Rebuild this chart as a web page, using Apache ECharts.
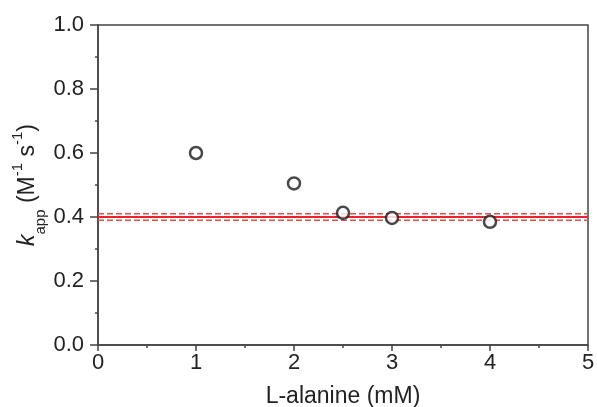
<!DOCTYPE html>
<html>
<head>
<meta charset="utf-8">
<script src="https://cdn.jsdelivr.net/npm/echarts@6/dist/echarts.min.js"></script>
<style>
  html, body { margin: 0; padding: 0; background: #fff; }
  #chart { width: 597px; height: 407px; }
</style>
</head>
<body>
<div id="chart"></div>
<script>
// 数据：L-alanine 浓度 (mM) 与 k_app
var alanine = [1, 2, 2.5, 3, 4];
var kApp = [0.600, 0.505, 0.413, 0.397, 0.385];

// 参考线：均值与上下界
var meanLine = 0.40;
var upperLine = 0.41;
var lowerLine = 0.39;
var xRange = [0, 5];

var font = 'Liberation Sans, Arial, sans-serif';
var axisColor = '#444';
var textColor = '#222';

function hLine(v) {
    return [[xRange[0], v], [xRange[1], v]];
}

var chart = echarts.init(document.getElementById('chart'));

chart.setOption({
    animation: false,
    grid: {
        left: 98, right: 9, top: 25, bottom: 62,
        outerBoundsMode: 'none',
        containLabel: false,
        show: true, borderColor: axisColor, borderWidth: 1.5
    },
    xAxis: {
        type: 'value', min: 0, max: 5, interval: 1,
        name: 'L-alanine (mM)',
        nameLocation: 'middle',
        nameGap: 40,
        nameTextStyle: { fontFamily: font, fontSize: 23, color: textColor },
        axisLine: { show: true, lineStyle: { color: axisColor, width: 1.5 } },
        axisTick: { show: true, length: 6, lineStyle: { color: axisColor, width: 1.5 } },
        minorTick: { show: true, splitNumber: 2, length: 3, lineStyle: { color: axisColor, width: 1.5 } },
        axisLabel: { fontFamily: font, fontSize: 22, color: textColor, margin: 7 },
        splitLine: { show: false }
    },
    yAxis: {
        type: 'value', min: 0, max: 1, interval: 0.2,
        name: '{k|k}{sub|app}{n| (M}{sup|-1}{n| s}{sup|-1}{n|)}',
        nameLocation: 'middle',
        nameRotate: 90,
        nameGap: 56,
        nameMoveOverlap: false,
        nameTextStyle: {
            fontFamily: font, fontSize: 23, color: textColor,
            rich: {
                k: { fontFamily: font, fontSize: 23, fontStyle: 'italic', color: textColor, lineHeight: 28, verticalAlign: 'middle' },
                n: { fontFamily: font, fontSize: 23, color: textColor, lineHeight: 28, verticalAlign: 'middle' },
                sub: { fontFamily: font, fontSize: 15, color: textColor, lineHeight: 28, verticalAlign: 'bottom', padding: [0, 0, -6, 0] },
                sup: { fontFamily: font, fontSize: 15, color: textColor, lineHeight: 28, verticalAlign: 'top', padding: [-4, 0, 0, 0] }
            }
        },
        axisLine: { show: true, lineStyle: { color: axisColor, width: 1.5 } },
        axisTick: { show: true, length: 8, lineStyle: { color: axisColor, width: 1.5 } },
        minorTick: { show: true, splitNumber: 2, length: 3, lineStyle: { color: axisColor, width: 1.5 } },
        axisLabel: {
            fontFamily: font, fontSize: 22, color: textColor, margin: 14,
            formatter: function (v) { return v.toFixed(1); }
        },
        splitLine: { show: false }
    },
    series: [
        {
            type: 'line', data: hLine(upperLine), symbol: 'none', silent: true,
            lineStyle: { color: '#f04848', width: 1.5, type: [6, 3] }, z: 1
        },
        {
            type: 'line', data: hLine(lowerLine), symbol: 'none', silent: true,
            lineStyle: { color: '#f04848', width: 1.5, type: [6, 3] }, z: 1
        },
        {
            type: 'line', data: hLine(meanLine), symbol: 'none', silent: true,
            lineStyle: { color: '#e8262a', width: 2 }, z: 2
        },
        {
            type: 'scatter',
            data: alanine.map(function (x, i) { return [x, kApp[i]]; }),
            symbol: 'circle', symbolSize: 12,
            itemStyle: { color: '#fff', borderColor: '#1a1a1a', borderWidth: 2.5 },
            z: 5
        }
    ]
});
</script>
</body>
</html>
